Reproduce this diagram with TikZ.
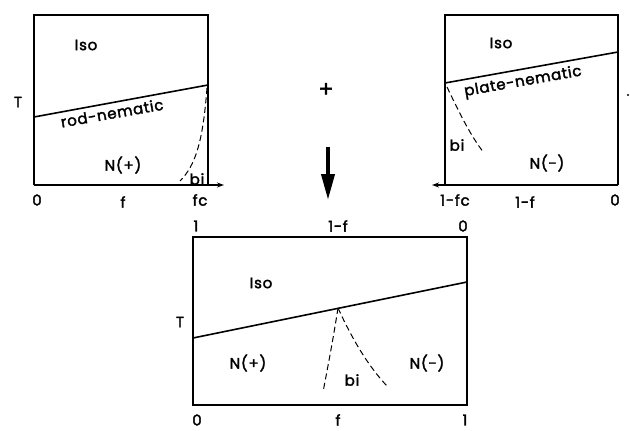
\documentclass[tikz,border=0pt]{standalone}
\usepackage{fontspec}
\setmainfont{Poppins}
\newfontfamily\plotfont{Poppins}[FakeBold=2.2,LetterSpace=5]
\usetikzlibrary{arrows.meta}
\begin{document}
\begin{tikzpicture}[x=1pt,y=-1pt,
    lbl/.style={font=\plotfont\fontsize{15}{17}\selectfont, inner sep=0pt},
    frame/.style={line width=2pt},
    phase/.style={line width=1.6pt},
    binodal/.style={line width=1pt, dash pattern=on 6pt off 3.5pt}]
    \useasboundingbox (0,0) rectangle (630,431);

    % Draw rod diagram (left)
    \draw[frame] (34,185) -- (34,15) -- (208,15) -- (208,185);
    \draw[frame,-{Stealth[length=7pt,width=5pt]}] (34,185) -- (224,185);
    \coordinate (rodL) at (34,117);
    \coordinate (rodR) at (208,85);
    \draw[phase] (rodL) -- (rodR);
    \draw[binodal] (207,88) .. controls (203,140) and (196,165) .. (180,181);
    \node[lbl] (isoA) at (86,45) {Iso};
    \node[lbl,rotate=10] (rodnem) at (112,113) {rod-nematic};
    \node[lbl] (nplusA) at (123,165) {N(+)};
    \node[lbl] (biA) at (197,179) {bi};
    \node[lbl] (tA) at (18,102) {T};
    \node[lbl] (zeroA) at (37,200) {0};
    \node[lbl] (fA) at (123,202) {f};
    \node[lbl] (fcA) at (200,200) {fc};

    % Draw plus sign and arrow
    \node[font=\plotfont\fontsize{22}{24}\selectfont, inner sep=0pt] (plus) at (326,90) {+};
    \draw[line width=4pt,-{Triangle[length=26pt,width=13pt]}] (328,147) -- (328,200);

    % Draw plate diagram (right)
    \draw[frame] (618,185) -- (618,15) -- (445,15) -- (445,185);
    \draw[frame,-{Stealth[length=7pt,width=5pt]}] (618,185) -- (432,185);
    \coordinate (plaL) at (445,83);
    \coordinate (plaR) at (618,52);
    \draw[phase] (plaL) -- (plaR);
    \draw[binodal] (447,87) .. controls (459,112) and (470,135) .. (484,153);
    \node[lbl] (isoB) at (501,43) {Iso};
    \node[lbl,rotate=10] (platenem) at (523,82) {plate-nematic};
    \node[lbl] (biB) at (457,145) {bi};
    \node[lbl] (nminusB) at (547,163) {N(-)};
    \node[lbl] (fcB) at (455,200) {1-fc};
    \node[lbl] (fB) at (525,202) {1-f};
    \node[lbl] (zeroB) at (615,200) {0};
    \fill (628,95) circle (1.2pt);

    % Draw combined diagram (bottom)
    \draw[frame] (193,237) rectangle (467,405);
    \coordinate (mixL) at (193,338);
    \coordinate (mixR) at (467,282);
    \coordinate (tri) at (338,308);
    \draw[phase] (mixL) -- (mixR);
    \draw[binodal] (tri) .. controls (333,340) and (328,366) .. (323,392);
    \draw[binodal] (tri) .. controls (354,343) and (370,368) .. (387,386);
    \node[lbl] (isoC) at (261,283) {Iso};
    \node[lbl] (nplusC) at (248,363) {N(+)};
    \node[lbl] (biC) at (352,380) {bi};
    \node[lbl] (nminusC) at (427,363) {N(-)};
    \node[lbl] (tC) at (180,322) {T};
    \node[lbl] (oneTop) at (196,226) {1};
    \node[lbl] (fTop) at (338,226) {1-f};
    \node[lbl] (zeroTop) at (463,226) {0};
    \node[lbl] (zeroBot) at (197,420) {0};
    \node[lbl] (fBot) at (338,420) {f};
    \node[lbl] (oneBot) at (465,420) {1};
\end{tikzpicture}
\end{document}
